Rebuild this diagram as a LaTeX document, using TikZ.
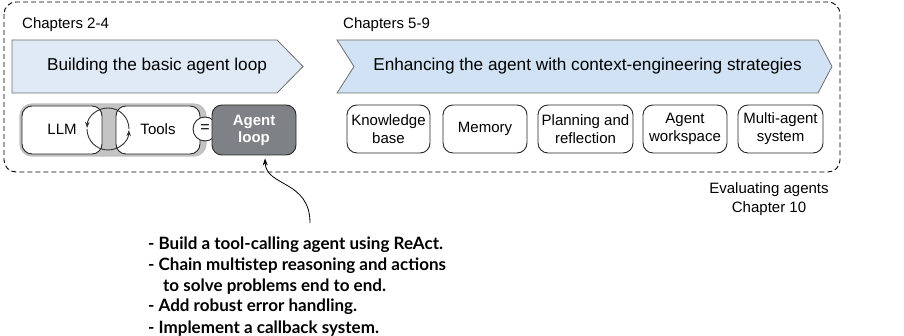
\documentclass[tikz,border=0pt]{standalone}
\usepackage{fontspec}
\setmainfont{Liberation Sans}
\newfontfamily\bulletfont{Lato}
\usetikzlibrary{arrows.meta}
\definecolor{bandA}{HTML}{DFEAF6}
\definecolor{bandB}{HTML}{D0E2F3}
\definecolor{bandedge}{HTML}{6E6E6E}
\definecolor{grpgray}{HTML}{C4C4C4}
\definecolor{loopgray}{HTML}{7E8287}
\tikzset{
  lbl/.style={font=\fontsize{15}{17}\selectfont, inner sep=0pt},
  bandtext/.style={font=\fontsize{17.2}{20}\selectfont, inner sep=0pt},
  chap/.style={font=\fontsize{15}{17}\selectfont, inner sep=0pt, anchor=west},
  band/.style={draw=bandedge, line width=0.8pt},
  card/.style={draw=black!85, line width=0.9pt, rounded corners=10pt, fill=white},
  cardtext/.style={font=\fontsize{15}{18}\selectfont, align=center, inner sep=0pt},
  cyc/.style={draw=black!80, line width=0.9pt, -{Stealth[length=6pt,width=4.5pt]}},
  bul/.style={anchor=base west, inner sep=0pt, font=\bulletfont\bfseries\fontsize{17}{20}\selectfont},
}
\begin{document}
\begin{tikzpicture}[x=1pt,y=-1pt]
\useasboundingbox (0,0) rectangle (904,336);
% outer dashed frame
\draw[dash pattern=on 5pt off 3pt, line width=0.9pt, rounded corners=12pt] (4,2) rectangle (840,172);
\node[chap] (c24) at (22,25) {Chapters 2-4};
\node[chap] (c59) at (343,25) {Chapters 5-9};
% bands
\draw[band, fill=bandA] (12,40) -- (277,40) -- (303,66.5) -- (277,93) -- (12,93) -- cycle;
\node[bandtext] (b1) at (157,66.5) {Building the basic agent loop};
\draw[band, fill=bandB] (337,40) -- (818,40) -- (832,66.5) -- (818,93) -- (337,93) -- (354,66.5) -- cycle;
\node[bandtext] (b2) at (587.5,66.5) {Enhancing the agent with context-engineering strategies};
% LLM + Tools group
\draw[fill=grpgray, draw=black!25, line width=1.2pt, rounded corners=12pt] (20,104) rectangle (206,156);
\node[card, minimum width=80pt, minimum height=48pt, inner sep=0pt] (llm) at (62,130) {};
\node[lbl] (llmt) at (62,129) {LLM};
\node[card, minimum width=84pt, minimum height=48pt, inner sep=0pt] (tools) at (158,130) {};
\node[lbl] (toolst) at (158,129) {Tools};
\draw[cyc] (108,129) ++(0:21) arc[start angle=360, end angle=183, radius=21];
\draw[cyc] (108,129) ++(180:21) arc[start angle=180, end angle=3, radius=21];
\node[draw=black!85, fill=white, circle, line width=0.9pt, minimum size=24pt, inner sep=0pt, font=\fontsize{16}{16}\selectfont] (eq) at (205,129) {=};
\node[card, fill=loopgray, minimum width=84pt, minimum height=50pt, inner sep=0pt, text=white, font=\bfseries\fontsize{15}{17}\selectfont, align=center] (loop) at (254,130) {Agent\\loop};
% context cards
\node[card, minimum width=83pt, minimum height=48pt, cardtext] (kb) at (388.5,129) {Knowledge\\base};
\node[card, minimum width=84pt, minimum height=48pt, cardtext] (mem) at (485,129) {Memory};
\node[card, minimum width=95pt, minimum height=48pt, cardtext] (plan) at (585.5,129) {Planning and\\reflection};
\node[card, minimum width=84pt, minimum height=48pt, cardtext] (ws) at (685,129) {Agent\\workspace};
\node[card, minimum width=85pt, minimum height=48pt, cardtext] (mas) at (780.5,129) {Multi-agent\\system};
% evaluating
\node[font=\fontsize{15}{19}\selectfont, align=center, inner sep=0pt] (eval) at (769,199.5) {Evaluating agents\\Chapter 10};
% bullet list
\node[bul] (l1) at (148,250) {- Build a tool-calling agent using ReAct.};
\node[bul] (l2) at (148,271) {- Chain multistep reasoning and actions};
\node[bul] (l3) at (163,291.5) {to solve problems end to end.};
\node[bul] (l4) at (148,312) {- Add robust error handling.};
\node[bul] (l5) at (148,333) {- Implement a callback system.};
\coordinate (src) at (310,223);
\draw[line width=0.8pt, -{Stealth[length=7pt,width=5pt]}] (src) .. controls (310,180) and (266,187) .. ([xshift=11pt,yshift=-3pt]loop.south);
\end{tikzpicture}
\end{document}
